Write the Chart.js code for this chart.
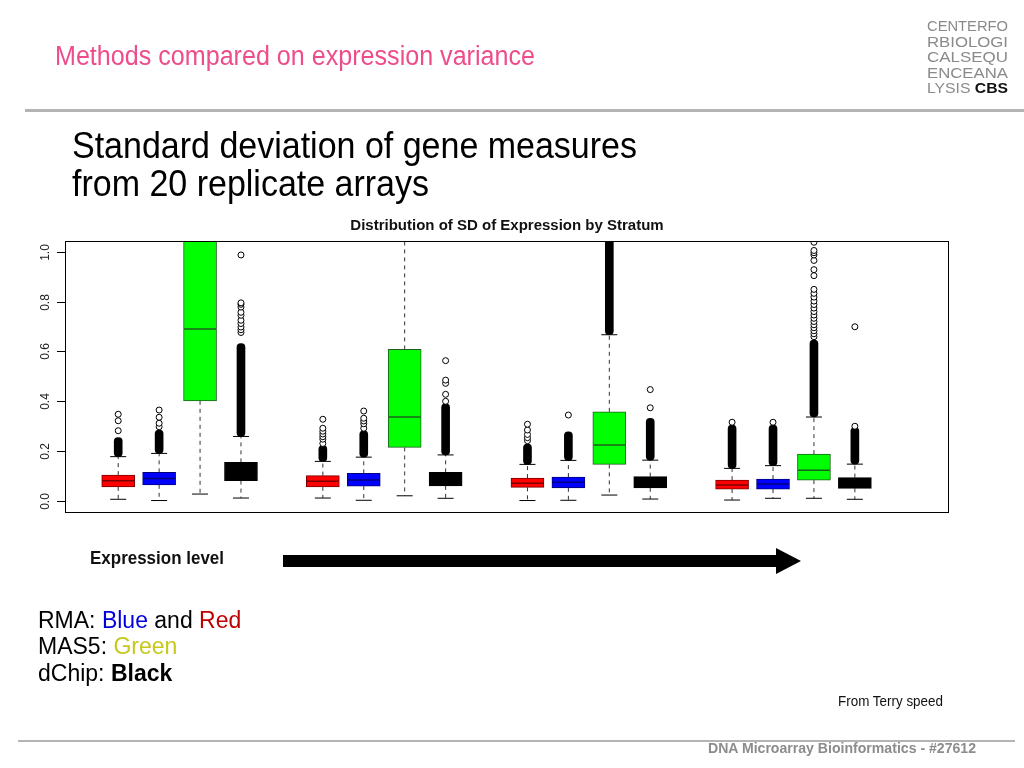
<!DOCTYPE html>
<html>
<head>
<meta charset="utf-8">
<script src="https://cdn.jsdelivr.net/npm/chart.js@4.4.1/dist/chart.umd.min.js"></script>
<style>
  html, body { margin: 0; padding: 0; background: #fff; }
  #slide { position: relative; width: 1024px; height: 768px; overflow: hidden; }
  #chart, #deco { position: absolute; left: 0; top: 0; }
  #deco { pointer-events: none; }
</style>
</head>
<body>
<div id="slide">
  <canvas id="chart" width="1024" height="768"></canvas>
  <svg id="deco" width="1024" height="768" xmlns="http://www.w3.org/2000/svg" font-family="Liberation Sans, Arial, sans-serif">
    <text x="55" y="65" fill="#ee4c8a" font-size="27" textLength="480" lengthAdjust="spacingAndGlyphs">Methods compared on expression variance</text>

    <g fill="#8a8a8a" font-size="15">
      <text x="927" y="31" textLength="81" lengthAdjust="spacingAndGlyphs">CENTERFO</text>
      <text x="927" y="47" textLength="81" lengthAdjust="spacingAndGlyphs">RBIOLOGI</text>
      <text x="927" y="62" textLength="81" lengthAdjust="spacingAndGlyphs">CALSEQU</text>
      <text x="927" y="78" textLength="81" lengthAdjust="spacingAndGlyphs">ENCEANA</text>
      <text x="927" y="93" textLength="81" lengthAdjust="spacingAndGlyphs">LYSIS <tspan fill="#111" font-weight="bold">CBS</tspan></text>
    </g>
    <rect x="25" y="109" width="999" height="3" fill="#b4b4b4"/>

    <g fill="#000" font-size="37">
      <text x="72" y="158" textLength="565" lengthAdjust="spacingAndGlyphs">Standard deviation of gene measures</text>
      <text x="72" y="196" textLength="357" lengthAdjust="spacingAndGlyphs">from 20 replicate arrays</text>
    </g>

    <text x="90" y="564" fill="#111" font-size="18" font-weight="bold" textLength="134" lengthAdjust="spacingAndGlyphs">Expression level</text>
    <polygon points="283,555 776,555 776,548 801,561 776,574 776,567 283,567" fill="#000"/>

    <g font-size="23" fill="#000">
      <text x="38" y="628">RMA: <tspan fill="#0000dd">Blue</tspan> and <tspan fill="#c00000">Red</tspan></text>
      <text x="38" y="654">MAS5: <tspan fill="#c8c81c">Green</tspan></text>
      <text x="38" y="681">dChip: <tspan font-weight="bold">Black</tspan></text>
    </g>

    <text x="838" y="706" fill="#111" font-size="14" textLength="105" lengthAdjust="spacingAndGlyphs">From Terry speed</text>
    <rect x="18" y="740" width="997" height="2" fill="#b4b4b4"/>
    <text x="708" y="753" fill="#8c8c8c" font-size="15" font-weight="bold" textLength="268" lengthAdjust="spacingAndGlyphs">DNA Microarray Bioinformatics - #27612</text>
  </svg>
</div>
<script>
// four strata of expression level (low -> high), four methods in each
const strata = ['Stratum 1', 'Stratum 2', 'Stratum 3', 'Stratum 4'];
const methods = ['RMA (red)', 'RMA (blue)', 'MAS5', 'dChip'];
const methodFill = ['#ff0000', '#0000ff', '#00ff00', '#000000'];
const methodEdge = ['#7a0000', '#00007a', '#1e5e1e', '#000000'];

// box stats, 16 boxes: stratum by stratum, methods in the order above
const whiskLo = [0.007, 0.002, 0.028, 0.012,  0.012, 0.003, 0.021, 0.011,  0.002, 0.003, 0.024, 0.008,  0.004, 0.011, 0.011, 0.007];
const q1      = [0.057, 0.065, 0.402, 0.082,  0.057, 0.060, 0.215, 0.061,  0.055, 0.053, 0.147, 0.053,  0.048, 0.048, 0.084, 0.051];
const med     = [0.081, 0.090, 0.690, 0.115,  0.079, 0.084, 0.337, 0.088,  0.071, 0.075, 0.225, 0.075,  0.064, 0.068, 0.123, 0.072];
const q3      = [0.104, 0.115, 1.150, 0.155,  0.102, 0.111, 0.608, 0.115,  0.092, 0.096, 0.358, 0.098,  0.084, 0.088, 0.188, 0.094];
const whiskHi = [0.178, 0.191, 1.600, 0.259,  0.159, 0.176, 1.300, 0.185,  0.147, 0.163, 0.667, 0.164,  0.131, 0.142, 0.337, 0.148];

// outliers: runs too dense to separate are kept as [from, to], the rest as single values
const denseRuns = [
  [[0.178, 0.255]], [[0.191, 0.285]], [], [[0.259, 0.632]],
  [[0.159, 0.222]], [[0.176, 0.282]], [], [[0.185, 0.390]],
  [[0.147, 0.228]], [[0.163, 0.278]], [[0.667, 1.100]], [[0.164, 0.332]],
  [[0.131, 0.305]], [[0.142, 0.305]], [[0.337, 0.646]], [[0.148, 0.295]]
];
const singles = [
  [0.282, 0.322, 0.348],
  [0.298, 0.312, 0.336, 0.365],
  [],
  [0.676, 0.687, 0.698, 0.712, 0.725, 0.745, 0.757, 0.778, 0.789, 0.795, 0.987],
  [0.231, 0.248, 0.258, 0.269, 0.280, 0.292, 0.328],
  [0.292, 0.310, 0.321, 0.332, 0.361],
  [],
  [0.400, 0.428, 0.472, 0.485, 0.563],
  [0.242, 0.254, 0.267, 0.285, 0.308],
  [0.345],
  [],
  [0.374, 0.447],
  [0.316],
  [0.316],
  [0.659, 0.671, 0.683, 0.695, 0.707, 0.720, 0.733, 0.746, 0.760, 0.774, 0.788, 0.802, 0.818, 0.833, 0.849, 0.904, 0.928, 0.965, 0.987, 0.996, 1.005, 1.038],
  [0.300, 0.699]
];

const yTicks = [0, 0.2, 0.4, 0.6, 0.8, 1.0];
const yTickLabels = ['0.0', '0.2', '0.4', '0.6', '0.8', '1.0'];

// slot on the x axis: one empty slot between strata
const slotOf = i => Math.floor(i / 4) * 5 + (i % 4) + 1;
const fillOf = i => methodFill[i % 4];
const edgeOf = i => methodEdge[i % 4];

const whiskerPts = [];
const capPts = [];
q1.forEach((v, i) => {
  const x = slotOf(i);
  whiskerPts.push({x, y: q3[i]}, {x, y: whiskHi[i]}, {x, y: null});
  whiskerPts.push({x, y: q1[i]}, {x, y: whiskLo[i]}, {x, y: null});
  capPts.push({x, y: whiskLo[i]}, {x, y: whiskHi[i]});
});
const runPts = [];
denseRuns.forEach((runs, i) => runs.forEach(r => runPts.push({x: slotOf(i), y: r})));
const singlePts = [];
singles.forEach((vals, i) => vals.forEach(v => singlePts.push({x: slotOf(i), y: v})));

// plot frame, tick marks and R-style rotated tick labels
const framePlugin = {
  id: 'frame',
  afterDraw(chart) {
    const {ctx, chartArea: a, scales: {y}} = chart;
    ctx.save();
    ctx.strokeStyle = '#000';
    ctx.lineWidth = 1;
    ctx.strokeRect(a.left + 0.5, a.top + 0.5, a.right - a.left - 1, a.bottom - a.top);
    ctx.fillStyle = '#222';
    ctx.font = '12px "Liberation Sans", Arial, sans-serif';
    ctx.textAlign = 'center';
    ctx.textBaseline = 'alphabetic';
    yTicks.forEach((v, k) => {
      const py = Math.round(y.getPixelForValue(v)) + 0.5;
      ctx.beginPath();
      ctx.moveTo(a.left - 8, py);
      ctx.lineTo(a.left, py);
      ctx.stroke();
      ctx.save();
      ctx.translate(a.left - 16.5, py);
      ctx.rotate(-Math.PI / 2);
      ctx.fillText(yTickLabels[k], 0, 0);
      ctx.restore();
    });
    ctx.restore();
  }
};

new Chart(document.getElementById('chart'), {
  type: 'bar',
  data: {
    datasets: [
      {
        type: 'scatter', label: 'outliers', data: singlePts, order: 1, clip: 0,
        pointStyle: 'circle', pointRadius: 3, pointBorderWidth: 1,
        pointBorderColor: '#000', pointBackgroundColor: '#fff'
      },
      {
        type: 'bar', label: 'dense outliers', data: runPts, order: 2, clip: 0,
        backgroundColor: '#000', borderWidth: 0, borderRadius: 4, borderSkipped: false,
        barThickness: 8, grouped: false
      },
      {
        type: 'scatter', label: 'medians',
        data: med.map((v, i) => ({x: slotOf(i), y: v})), order: 3, clip: 0,
        pointStyle: 'line', pointRadius: 16, pointBorderWidth: 1.5,
        pointBorderColor: med.map((v, i) => edgeOf(i))
      },
      {
        type: 'scatter', label: 'whisker ends', data: capPts, order: 3, clip: 0,
        pointStyle: 'line', pointRadius: 8, pointBorderWidth: 1, pointBorderColor: '#000'
      },
      {
        type: 'bar', label: 'boxes',
        data: q1.map((v, i) => ({x: slotOf(i), y: [q1[i], q3[i]]})), order: 4, clip: 0,
        backgroundColor: q1.map((v, i) => fillOf(i)),
        borderColor: q1.map((v, i) => edgeOf(i)),
        borderWidth: 1, borderSkipped: false, barThickness: 33, grouped: false
      },
      {
        type: 'line', label: 'whiskers', data: whiskerPts, order: 5, clip: 0,
        borderColor: '#333', borderWidth: 1, borderDash: [4, 4],
        pointRadius: 0, spanGaps: false, tension: 0, fill: false
      }
    ]
  },
  options: {
    responsive: false,
    animation: false,
    events: [],
    layout: { padding: { left: 65, right: 75, top: 217, bottom: 256 } },
    scales: {
      x: { type: 'linear', min: -0.3, max: 21.3, offset: false, display: false },
      y: {
        type: 'linear', min: -0.044, max: 1.043, display: false,
        afterBuildTicks: s => { s.ticks = yTicks.map(v => ({value: v})); }
      }
    },
    plugins: {
      legend: { display: false },
      tooltip: { enabled: false },
      title: {
        display: true,
        text: 'Distribution of SD of Expression by Stratum',
        color: '#111',
        font: { family: '"Liberation Sans", Arial, sans-serif', size: 15, weight: 'bold' },
        padding: { top: 0, bottom: 6 }
      }
    }
  },
  plugins: [framePlugin]
});
</script>
</body>
</html>
